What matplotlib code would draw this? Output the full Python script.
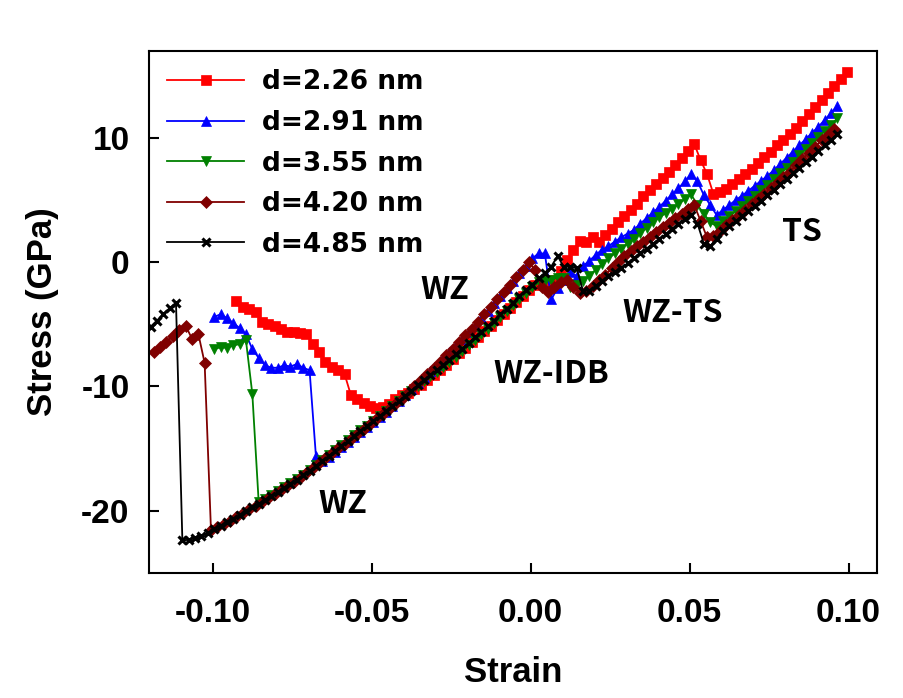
import numpy as np
import matplotlib
matplotlib.use("Agg")
import matplotlib.pyplot as plt

plt.rcParams['font.family'] = ['Liberation Sans', 'DejaVu Sans']

STEP = 0.002

labels = ["d=2.26 nm", "d=2.91 nm", "d=3.55 nm", "d=4.20 nm", "d=4.85 nm"]
colors = ["#ff0000", "#0000ff", "#008000", "#800000", "#000000"]
markers = ["s", "^", "v", "D", "x"]

# strain of first point for each series (points every 0.002 strain)
starts = [-0.0925, -0.0995, -0.0995, -0.1185, -0.1195]

stress_226 = [
    -3.1, -3.6, -3.75, -4.0, -4.8, -5.0, -5.15, -5.4, -5.6, -5.6,
    -5.7, -5.8, -6.6, -7.2, -8.0, -8.45, -8.7, -9.0, -10.7, -11.0,
    -11.3, -11.6, -11.75, -11.65, -11.4, -11.05, -10.7, -10.5, -10.25, -9.9,
    -9.5, -9.05, -8.65, -8.25, -7.8, -7.35, -6.9, -6.45, -6.0, -5.55,
    -5.1, -4.65, -4.15, -3.65, -3.2, -2.7, -2.25, -1.8, -1.7, -1.5,
    -1.4, -0.7, 0.2, 1.0, 1.7, 1.6, 2.0, 1.6, 2.2, 2.7,
    3.2, 3.7, 4.2, 4.7, 5.3, 5.8, 6.3, 6.8, 7.3, 7.85,
    8.4, 8.95, 9.5, 8.2, 7.1, 5.5, 5.65, 5.9, 6.3, 6.7,
    7.1, 7.5, 7.95, 8.45, 8.9, 9.4, 9.85, 10.3, 10.8, 11.35,
    11.9, 12.5, 13.05, 13.6, 14.2, 14.75, 15.3,
]

stress_291 = [
    -4.4, -4.2, -4.5, -4.9, -5.3, -5.8, -7.0, -7.7, -8.3, -8.5,
    -8.5, -8.3, -8.4, -8.2, -8.5, -8.7, -15.6, -16.0, -15.65, -15.25,
    -14.85, -14.45, -14.05, -13.65, -13.25, -12.85, -12.45, -12.05, -11.6, -11.15,
    -10.7, -10.2, -9.75, -9.25, -8.75, -8.25, -7.75, -7.2, -6.7, -6.2,
    -5.65, -5.1, -4.5, -3.9, -3.3, -2.7, -2.1, -1.5, -0.9, -0.3,
    0.3, 0.7, 0.7, -3.0, -2.1, -1.4, -0.8, -1.1, -0.3, 0.1,
    0.6, 1.0, 1.3, 1.65, 2.0, 2.3, 2.6, 3.1, 3.55, 4.0,
    4.45, 4.95, 5.45, 5.95, 6.5, 7.1, 6.5, 5.4, 4.6, 3.8,
    4.2, 4.6, 5.0, 5.35, 5.75, 6.15, 6.55, 6.95, 7.4, 7.9,
    8.4, 8.9, 9.4, 9.9, 10.4, 10.9, 11.45, 12.0, 12.6,
]

stress_355 = [
    -7.0, -6.85, -6.9, -6.7, -6.6, -6.3, -10.6, -19.3, -19.05, -18.75,
    -18.45, -18.1, -17.8, -17.45, -17.1, -16.75, -16.35, -15.95, -15.55, -15.15,
    -14.75, -14.35, -13.95, -13.55, -13.15, -12.75, -12.35, -11.95, -11.55, -11.15,
    -10.8, -10.4, -10.0, -9.6, -9.2, -8.85, -8.45, -8.0, -7.6, -7.15,
    -6.7, -6.25, -5.8, -5.35, -4.9, -4.4, -3.95, -3.45, -2.95, -2.45,
    -2.0, -1.6, -1.5, -1.4, -1.25, -1.3, -2.0, -1.8, -1.5, -1.1,
    -0.6, -0.15, 0.3, 0.7, 1.1, 1.5, 1.9, 2.35, 2.75, 3.2,
    3.6, 3.95, 4.3, 4.7, 5.05, 5.45, 4.6, 3.9, 3.2, 2.9,
    3.3, 3.7, 4.1, 4.5, 4.9, 5.35, 5.8, 6.25, 6.7, 7.15,
    7.6, 8.1, 8.6, 9.1, 9.6, 10.1, 10.55, 11.05, 11.6,
]

stress_420 = [
    -7.2, -6.8, -6.4, -5.95, -5.5, -5.1, -6.15, -5.75, -8.1, -21.6,
    -21.35, -21.1, -20.8, -20.5, -20.2, -19.9, -19.6, -19.3, -19.0, -18.7,
    -18.35, -18.0, -17.7, -17.35, -17.0, -16.6, -16.2, -15.8, -15.4, -15.0,
    -14.6, -14.2, -13.8, -13.4, -13.0, -12.6, -12.2, -11.8, -11.4, -11.0,
    -10.55, -10.0, -9.5, -9.0, -8.5, -8.0, -7.45, -6.95, -6.45, -5.9,
    -5.35, -4.8, -4.2, -3.6, -3.0, -2.4, -1.8, -1.2, -0.6, 0.0,
    -0.65, -2.0, -2.4, -2.0, -1.6, -1.45, -2.0, -2.5, -2.3, -1.9,
    -1.45, -1.0, -0.5, 0.0, 0.5, 0.9, 1.3, 1.65, 2.05, 2.4,
    2.8, 3.15, 3.55, 3.9, 4.3, 4.6, 3.3, 2.0, 2.1, 2.5,
    3.0, 3.4, 3.8, 4.2, 4.65, 5.1, 5.5, 5.95, 6.4, 6.85,
    7.3, 7.8, 8.3, 8.8, 9.3, 9.8, 10.25, 10.7,
]

stress_485 = [
    -5.2, -4.7, -4.2, -3.7, -3.3, -22.4, -22.35, -22.2, -22.05, -21.8,
    -21.5, -21.2, -20.95, -20.65, -20.35, -20.05, -19.75, -19.45, -19.15, -18.85,
    -18.5, -18.15, -17.85, -17.5, -17.15, -16.8, -16.4, -16.0, -15.6, -15.2,
    -14.8, -14.4, -14.0, -13.6, -13.2, -12.8, -12.4, -12.0, -11.6, -11.2,
    -10.8, -10.35, -9.9, -9.5, -9.1, -8.7, -8.3, -7.85, -7.4, -6.95,
    -6.5, -6.05, -5.6, -5.15, -4.7, -4.2, -3.75, -3.25, -2.75, -2.25,
    -1.8, -1.3, -0.85, -0.35, 0.5, -0.4, -0.35, -0.5, -2.3, -2.3,
    -1.9, -1.5, -1.15, -0.8, -0.45, -0.1, 0.3, 0.7, 1.1, 1.5,
    1.85, 2.25, 2.65, 3.05, 3.45, 3.8, 3.1, 1.5, 1.3, 1.9,
    2.5, 2.9, 3.3, 3.7, 4.1, 4.5, 4.95, 5.4, 5.85, 6.3,
    6.7, 7.15, 7.6, 8.05, 8.5, 8.95, 9.4, 9.85, 10.3,
]

series = [stress_226, stress_291, stress_355, stress_420, stress_485]

xticks = [-0.10, -0.05, 0.00, 0.05, 0.10]
xticklabels = ["-0.10", "-0.05", "0.00", "0.05", "0.10"]
yticks = [-20, -10, 0, 10]
yticklabels = ["-20", "-10", "0", "10"]

annotations = [("WZ", -0.027, -2.2), ("WZ-IDB", 0.0065, -9.0),
               ("WZ-TS", 0.0447, -4.1), ("TS", 0.0852, 2.45),
               ("WZ", -0.0589, -19.5)]

fig = plt.figure(figsize=(9.04, 6.98), dpi=100)
ax = fig.add_axes([0.1648, 0.1795, 0.8055, 0.7474])

msizes = [6.5, 7.0, 7.0, 6.0, 6.0]
for vals, start, lab, c, m, ms in zip(series, starts, labels, colors, markers, msizes):
    x = start + STEP * np.arange(len(vals))
    kw = dict(color=c, marker=m, markersize=ms, linewidth=1.3, label=lab,
              markeredgecolor=c, markerfacecolor=c)
    if m == "x":
        kw["markeredgewidth"] = 2.2
    else:
        kw["markeredgewidth"] = 0.5
    ax.plot(x, vals, **kw)

ax.set_xlim(-0.12, 0.109)
ax.set_ylim(-25, 17)
ax.set_xticks(xticks)
ax.set_xticklabels(xticklabels)
ax.set_yticks(yticks)
ax.set_yticklabels(yticklabels)
ax.tick_params(direction="in", length=7, width=1.5, labelsize=24, pad=14)
ax.tick_params(axis="x", pad=18)
for t in ax.get_xticklabels() + ax.get_yticklabels():
    t.set_fontweight("bold")
for s in ax.spines.values():
    s.set_linewidth(1.5)

ax.set_xlabel("Strain", fontsize=25, fontweight="bold", labelpad=20)
ax.set_ylabel("Stress (GPa)", fontsize=25, fontweight="bold", labelpad=16)

for txt, xx, yy in annotations:
    ax.text(xx, yy, txt, ha="center", va="center", fontsize=23,
            fontweight="bold", family=["Noto Sans CJK KR", "DejaVu Sans"])

leg = ax.legend(loc="upper left", frameon=False, numpoints=1,
                prop={"family": "DejaVu Sans", "weight": "bold", "size": 19},
                handlelength=2.9, handletextpad=0.7, labelspacing=0.55,
                borderaxespad=0.3, bbox_to_anchor=(0.0, 1.0))

fig.savefig("out.png", dpi=100)
